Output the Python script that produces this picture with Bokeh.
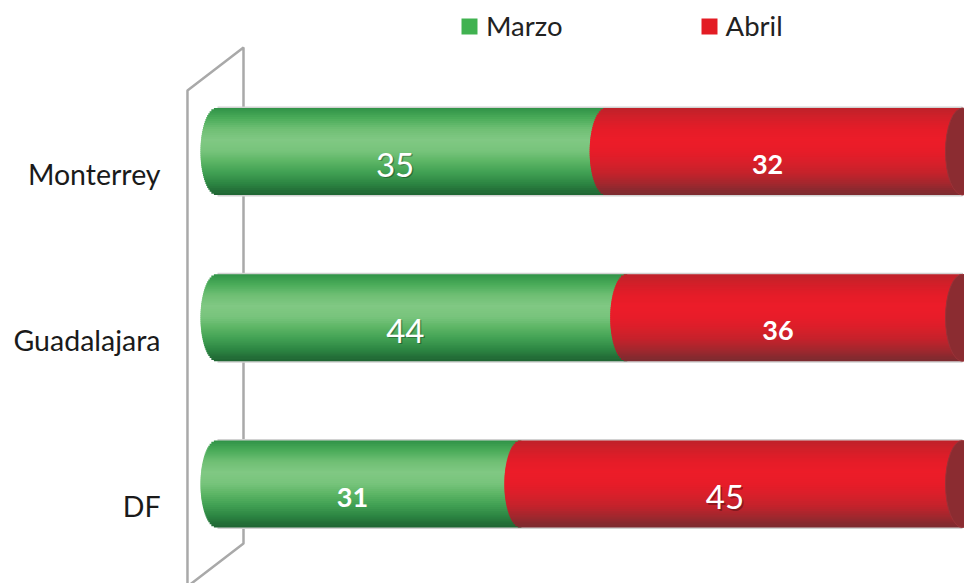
import numpy as np
from bokeh.plotting import figure
from bokeh.models import ColumnDataSource, Range1d, Legend, LegendItem
from bokeh.core.properties import value
from bokeh.embed import file_html
from bokeh.resources import INLINE

# ---------------- data ----------------
cities = ["Monterrey", "Guadalajara", "DF"]
marzo = [35, 44, 31]
abril = [32, 36, 45]
series_names = ["Marzo", "Abril"]

# ---------------- style ----------------
FONT = "Lato"
legend_colors = ["#40b250", "#e31c24"]
green_stops = ["#2e9146", "#4aab59", "#6fbf74", "#80c883", "#78c47c",
               "#5cb565", "#41a053", "#2d8643", "#1f6432"]
red_stops = ["#bd222a", "#d31f29", "#e51c28", "#ec1c29", "#e81c29",
             "#da1f2a", "#c6222b", "#a4272e", "#7a2b30"]
cap_color = "#8b2c31"
wall_color = "#a9a9a9"
edge_color = "#d2d2d2"

W, H = 964, 583
px_per_x = 745.0
px_per_y = 166.25
x0_px = 217          # frame px where value 0 (fraction) sits
row_top_px = 151     # frame px of first row centre

x_start = -x0_px / px_per_x
x_end = x_start + W / px_per_x
rows = np.arange(len(cities))[::-1].astype(float)   # Monterrey top
y_end = rows[0] + row_top_px / px_per_y
y_start = y_end - H / px_per_y

bar_h = 87 / px_per_y
cap_a = 17 / px_per_x       # half width of the cylinder end ellipse
N = 44


def hex2rgb(h):
    h = h.lstrip("#")
    return np.array([int(h[i:i + 2], 16) for i in (0, 2, 4)], float)


def grad(stops, n):
    cols = [hex2rgb(s) for s in stops]
    out = []
    for i in range(n):
        f = (i + 0.5) / n * (len(cols) - 1)
        k = min(int(f), len(cols) - 2)
        r = f - k
        c = cols[k] * (1 - r) + cols[k + 1] * r
        out.append("#%02x%02x%02x" % tuple(int(round(v)) for v in c))
    return out


g_cols = grad(green_stops, N)
r_cols = grad(red_stops, N)

tot = np.array(marzo, float) + np.array(abril, float)
frac = np.array(marzo, float) / tot

strips = {s: dict(y=[], left=[], right=[], color=[], h=[]) for s in series_names}
for ri, row in enumerate(rows):
    for i in range(N):
        t = -1 + (i + 0.5) * 2 / N          # -1 top .. 1 bottom
        yy = row - t * bar_h / 2
        bulge = cap_a * np.sqrt(max(0.0, 1 - t * t))
        hh = bar_h / N * (1.0 if i in (0, N - 1) else 1.8)
        for s, l, r, c in (("Marzo", 0 - bulge, frac[ri], g_cols[i]),
                           ("Abril", frac[ri] - bulge, 1.0, r_cols[i])):
            strips[s]["y"].append(yy)
            strips[s]["left"].append(l)
            strips[s]["right"].append(r)
            strips[s]["color"].append(c)
            strips[s]["h"].append(hh)

p = figure(width=W, height=H, x_range=Range1d(x_start, x_end),
           y_range=Range1d(y_start, y_end), output_backend="svg",
           toolbar_location=None, min_border=0,
           background_fill_color="white", border_fill_color="white")
p.axis.visible = False
p.grid.visible = False
p.outline_line_color = None

# 3D wall behind the bars
wall_x = [-0.0403, 0.0349, 0.0349, -0.0403]
wall_y = [2.3669, 2.6256, -0.3579, -0.6165]
p.patch(wall_x, wall_y, fill_color=None, line_color=wall_color, line_width=2.5)

# faint light edge around the cylinder body
edge_src = ColumnDataSource(dict(y=rows, l=[0.0] * len(rows), r=[1.0] * len(rows)))
p.hbar(y="y", left="l", right="r", height=bar_h + 3 / px_per_y,
       fill_color=edge_color, line_color=None, source=edge_src)

for s in series_names:
    src = ColumnDataSource(strips[s])
    p.hbar(y="y", left="left", right="right", height="h", fill_color="color",
           line_color=None, source=src)

cap_src = ColumnDataSource(dict(x=[1.0] * len(rows), y=rows))
p.ellipse(x="x", y="y", width=2 * cap_a, height=bar_h, fill_color=cap_color,
          line_color="#9a3238", line_width=1, source=cap_src)

# legend (zero-height proxies carry the legend colours)
leg_src = ColumnDataSource(dict(y=[rows[0]], l=[0.0], r=[0.0]))
lr = [p.hbar(y="y", left="l", right="r", height=0, fill_color=c, line_color=None,
             source=leg_src) for c in legend_colors]
legend = Legend(items=[LegendItem(label=n, renderers=[r]) for n, r in zip(series_names, lr)],
                orientation="horizontal", location=(459, 541),
                glyph_width=20, glyph_height=20, label_standoff=7, spacing=136,
                padding=0, margin=0, border_line_color=None,
                background_fill_alpha=0, label_text_font=FONT,
                label_text_font_size="27.5px", label_text_color="#222222")
p.add_layout(legend)

# data labels
lab = dict(x=[], y=[], text=[], size=[], style=[], big=[])
for ri, row in enumerate(rows):
    m, a = marzo[ri], abril[ri]
    for v, cx, other in ((m, frac[ri] / 2 - cap_a, a), (a, (frac[ri] + 1) / 2 - cap_a, m)):
        big = v >= other
        lab["x"].append(cx)
        lab["y"].append(row)
        lab["text"].append(str(v))
        lab["size"].append("33px" if big else "27px")
        lab["style"].append("normal" if big else "bold")
        lab["big"].append(big)
lab_src = ColumnDataSource(lab)
big_src = ColumnDataSource({k: [v for v, b in zip(lab[k], lab["big"]) if b] for k in lab})
p.text(x="x", y="y", text="text", source=big_src, text_font=value(FONT),
       text_font_size="size", text_font_style="style", text_color="#000000",
       text_alpha=0.3, text_align="center", text_baseline="middle",
       x_offset=1.5, y_offset=14.5)
p.text(x="x", y="y", text="text", source=lab_src, text_font=value(FONT),
       text_font_size="size", text_font_style="style", text_color="white",
       text_align="center", text_baseline="middle", y_offset=13)

# category labels
cat_src = ColumnDataSource(dict(x=[-57 / px_per_x] * len(rows), y=rows, text=cities))
p.text(x="x", y="y", text="text", source=cat_src, text_font=value(FONT),
       text_font_size="28.5px", text_color="#1a1a1a", text_align="right",
       text_baseline="middle", y_offset=22)

open("out.html", "w").write(file_html(p, INLINE))
